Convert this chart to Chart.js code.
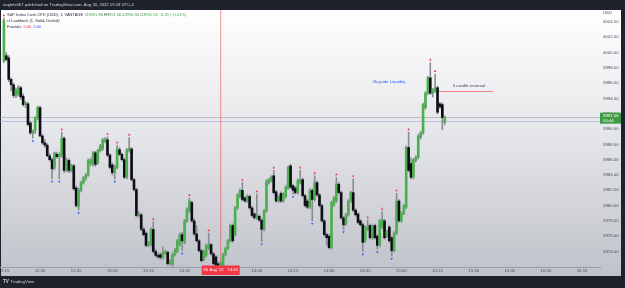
<!DOCTYPE html>
<html><head><meta charset="utf-8">
<script src="https://cdn.jsdelivr.net/npm/chart.js@4.4.1/dist/chart.umd.min.js"></script>
<style>html,body{margin:0;padding:0;background:#1e222d;overflow:hidden}#wrap{position:relative;width:625px;height:288px}canvas{display:block}</style>
</head><body><div id="wrap"><canvas id="c" width="625" height="288"></canvas></div>
<script>
// ---- data (1-minute candles starting 12:15) ----
const startTime = '12:15';
const opens = [
3998.9,3999.6,3999.3,3996.5,3995.8,3994.4,3994.6,3995.4,3994.3,3993.2,
3993.3,3990.8,3989.5,3989.8,3991.5,3992.8,3989.1,3988.2,3987.9,3986.5,
3986.0,3985.0,3986.7,3986.4,3986.6,3988.8,3984.6,3985.9,3984.6,3985.2,
3982.3,3979.9,3982.0,3983.0,3983.6,3984.0,3985.5,3985.4,3986.9,3985.6,
3987.2,3987.4,3988.4,3988.6,3986.6,3985.3,3984.3,3985.0,3987.3,3986.7,
3986.0,3983.7,3987.2,3987.4,3983.4,3982.1,3978.7,3978.8,3976.9,3976.4,
3974.8,3974.9,3976.9,3974.0,3973.5,3973.6,3973.2,3973.8,3973.9,3972.4,
3972.3,3973.6,3974.0,3974.9,3976.2,3975.2,3978.0,3979.3,3980.4,3978.0,
3976.3,3975.4,3974.1,3973.0,3973.5,3974.4,3974.9,3973.7,3973.3,3972.4,
3972.2,3972.2,3973.6,3974.4,3975.4,3977.4,3976.2,3979.7,3981.2,3982.0,
3981.0,3980.6,3981.2,3979.7,3978.9,3978.4,3978.6,3978.1,3976.9,3979.3,
3983.0,3983.3,3983.9,3981.8,3980.6,3981.6,3980.6,3981.2,3982.3,3985.2,
3982.6,3982.3,3981.7,3983.0,3983.4,3981.3,3980.6,3979.8,3982.0,3980.8,
3983.0,3981.4,3980.0,3978.0,3976.2,3976.0,3974.5,3980.1,3980.6,3982.8,
3981.7,3978.4,3977.6,3978.8,3980.6,3981.7,3979.4,3978.9,3978.0,3977.5,
3975.4,3976.9,3977.4,3975.8,3977.4,3976.0,3974.8,3977.2,3978.0,3976.0,
3977.2,3975.8,3974.1,3976.4,3980.6,3978.0,3979.0,3979.8,3987.6,3985.5,
3983.7,3985.9,3986.3,3988.9,3989.5,3992.8,3994.7,3996.7,3994.7,3995.0,
3995.4,3993.3,3993.2,3990.86];
const highs = [
4004.5,4000.0,3999.6,3996.7,3996.0,3995.4,3995.7,3995.6,3994.6,3993.6,
3993.5,3991.0,3989.9,3991.6,3993.0,3993.0,3989.3,3988.6,3988.1,3986.8,
3986.2,3987.0,3987.0,3986.9,3989.6,3989.0,3986.2,3986.1,3985.4,3985.4,
3982.6,3982.3,3983.2,3983.8,3984.2,3986.1,3986.2,3987.1,3987.1,3987.4,
3988.0,3988.8,3988.9,3989.0,3986.8,3985.6,3985.3,3987.9,3987.6,3986.9,
3986.2,3987.5,3988.9,3987.6,3983.6,3982.3,3979.2,3979.0,3977.2,3976.6,
3975.3,3977.1,3977.9,3974.3,3973.8,3973.8,3974.6,3974.2,3974.1,3972.9,
3973.8,3974.4,3975.6,3976.4,3976.5,3978.2,3979.7,3981.0,3980.6,3978.3,
3977.4,3975.6,3974.3,3974.2,3975.0,3976.4,3975.1,3973.9,3973.5,3972.7,
3972.7,3973.8,3974.6,3975.6,3977.6,3977.6,3979.9,3981.6,3982.2,3983.0,
3981.2,3981.4,3981.4,3979.9,3979.1,3981.5,3978.8,3978.3,3979.5,3983.4,
3983.6,3983.9,3984.6,3982.0,3981.3,3981.8,3981.7,3982.6,3985.2,3985.4,
3982.8,3982.5,3983.5,3984.6,3983.6,3981.5,3980.8,3982.2,3982.2,3983.9,
3983.2,3981.6,3980.2,3978.2,3976.4,3976.2,3980.6,3981.2,3983.7,3983.0,
3981.9,3978.6,3979.0,3980.8,3981.9,3983.5,3979.6,3979.1,3978.2,3977.7,
3977.3,3978.1,3977.6,3977.5,3977.6,3976.2,3978.2,3979.2,3978.2,3976.8,
3977.4,3976.0,3976.6,3981.6,3980.8,3979.2,3980.2,3987.8,3989.6,3986.2,
3986.2,3986.5,3989.3,3989.7,3993.4,3994.9,3996.9,3998.7,3995.3,3997.2,
3995.6,3993.5,3993.4,3991.7];
const lows = [
3998.7,3998.9,3996.2,3995.0,3994.1,3994.1,3994.3,3993.9,3993.0,3992.8,
3990.4,3989.3,3988.8,3989.4,3991.2,3989.0,3988.0,3987.6,3986.4,3985.8,
3983.5,3984.7,3986.2,3983.5,3986.3,3984.3,3984.4,3984.3,3984.4,3982.0,
3979.8,3979.4,3981.8,3982.8,3983.3,3983.8,3985.2,3985.2,3985.1,3985.4,
3987.0,3987.2,3988.2,3986.4,3984.8,3984.0,3983.5,3984.8,3986.5,3985.8,
3983.5,3983.5,3987.0,3983.2,3981.9,3978.5,3978.5,3976.7,3976.0,3974.6,
3974.6,3974.7,3973.8,3973.3,3973.1,3973.0,3973.0,3973.6,3972.2,3972.2,
3972.1,3973.4,3973.8,3974.7,3974.1,3975.0,3977.8,3979.1,3977.8,3976.1,
3975.2,3973.9,3972.6,3972.8,3973.3,3974.2,3973.5,3972.2,3972.0,3972.0,
3972.0,3972.0,3973.4,3974.2,3975.2,3975.2,3976.0,3979.5,3981.0,3980.6,
3980.4,3980.4,3979.5,3978.5,3978.2,3978.2,3977.9,3975.3,3976.7,3979.1,
3982.8,3983.1,3981.5,3980.4,3980.4,3980.4,3980.4,3981.0,3982.1,3982.2,
3981.5,3981.5,3981.5,3982.8,3981.1,3979.8,3979.6,3979.6,3978.0,3980.6,
3981.2,3979.8,3977.8,3976.0,3974.8,3974.3,3974.3,3979.9,3980.4,3981.5,
3978.2,3976.9,3977.4,3978.6,3980.4,3979.2,3978.6,3977.6,3977.3,3974.0,
3975.2,3976.7,3975.6,3975.6,3975.6,3974.3,3974.6,3977.0,3975.6,3975.8,
3975.2,3973.4,3973.9,3976.2,3977.8,3977.8,3978.8,3979.6,3984.4,3983.5,
3983.5,3985.7,3986.1,3988.7,3989.3,3992.6,3994.5,3994.5,3994.2,3994.8,
3992.0,3992.7,3989.9,3990.6];
const closes = [
4004.2,3999.1,3996.5,3995.8,3994.4,3995.1,3995.4,3994.2,3993.2,3993.4,
3990.6,3989.5,3989.7,3991.5,3992.8,3989.1,3988.2,3987.9,3986.5,3986.0,
3984.8,3986.9,3986.4,3986.7,3988.8,3984.6,3985.9,3984.6,3985.2,3982.2,
3980.0,3982.0,3983.0,3983.6,3984.0,3985.9,3986.0,3986.9,3985.4,3987.2,
3987.8,3988.6,3988.7,3986.6,3985.0,3984.3,3985.0,3987.4,3986.7,3986.0,
3983.7,3987.3,3987.5,3983.4,3982.1,3978.7,3978.9,3976.9,3976.2,3974.8,
3975.1,3976.9,3974.0,3973.5,3973.3,3973.2,3973.9,3974.0,3972.4,3972.7,
3973.6,3974.2,3975.4,3976.2,3975.4,3978.0,3979.5,3980.6,3978.0,3976.3,
3975.4,3974.1,3972.8,3974.0,3974.8,3974.9,3973.7,3972.4,3972.2,3972.2,
3972.5,3973.6,3974.4,3975.4,3977.4,3975.4,3979.7,3981.4,3982.0,3980.8,
3980.6,3981.2,3979.7,3978.7,3978.4,3978.7,3978.1,3976.9,3979.3,3983.2,
3983.4,3983.7,3981.7,3980.6,3981.1,3980.6,3981.5,3982.4,3985.0,3982.4,
3982.0,3981.7,3983.3,3983.4,3981.3,3980.0,3979.8,3982.0,3980.8,3983.0,
3981.4,3980.0,3978.0,3976.2,3975.8,3974.5,3980.4,3981.0,3982.8,3981.7,
3978.4,3977.5,3978.8,3980.6,3981.7,3979.4,3978.8,3977.8,3977.5,3975.2,
3977.1,3977.3,3975.8,3977.3,3975.8,3974.8,3978.0,3978.2,3975.8,3976.6,
3975.4,3974.1,3976.4,3980.6,3978.0,3979.0,3980.0,3987.6,3984.6,3983.7,
3986.0,3986.3,3989.1,3989.5,3993.2,3994.7,3996.7,3994.7,3995.1,3995.4,
3992.2,3992.9,3991.5,3991.56];
const upFractals = [0,24,43,47,52,62,77,85,99,105,112,123,129,138,145,151,157,163,168,177,179];
const downFractals = [12,20,23,31,46,74,107,120,128,141,149,155,161];
const timeTickLabels = ['12:15','12:30','12:45','13:00','13:15','13:30','14:00','14:15','14:30','14:45','15:00','15:15','15:30','15:45','16:00','16:15'];
const priceTicks = [3974,3976,3978,3980,3982,3984,3986,3988,3990,3992,3994,3996,3998,4000,4002,4004];
const priceLines = [3991.56, 3991.0];
const crosshairTime = '13:45';
const crosshairLabel = "30 Aug '22";
const reversalLine = {from:'15:14', to:'15:38', price:3995.0, text:'3 candle reversal', textTime:'15:28', textPrice:3995.6};
const buysideNote = {text:'Buyside Liquidity', time:'14:55', price:3996.2};
const publishedText = 'eaglehitt67 published on TradingView.com, Aug 30, 2022 15:18 UTC-4';
const legendTitle = 'S&P Index Cash CFD (USD), 1, VANTAGE';
const legendValues = [['O','3991.86'],['H','3991.56'],['L','3990.56'],['C','3991.56']];
const legendChange = '\u22120.25 (\u22120.01%)';
const legendLine2 = 'ct Lookback (1, Solid, Dotted)';
const legendLine3 = ['Fractals', '0.00', '0.00'];
const countdown = '00:44';

// ---- helpers ----
const toMin = s => { const [h,m] = s.split(':').map(Number); return h*60+m; };
const t0 = toMin(startTime);
const pxPerMin = 2.409;
const xMin = t0 - 3.9/pxPerMin, xMax = xMin + 600/pxPerMin;
const yMax = 4004 + 12/7.65, yMin = yMax - 257/7.65;
const FONT = '"Liberation Sans", Arial, sans-serif';
const UP = '#4caf50', DOWN = '#0d0f15', WICK = '#868a93';

const wickData = highs.map((h,i)=>({x:t0+i, y:[lows[i], h]}));
const bodyData = opens.map((o,i)=>({x:t0+i, y:[Math.min(o,closes[i]), Math.max(o,closes[i])]}));

const overlay = {
  id:'overlay',
  beforeDraw(chart){
    const {ctx,width,height} = chart;
    ctx.save();
    ctx.fillStyle = '#1e222d'; ctx.fillRect(0,0,width,height);
    const g = ctx.createLinearGradient(0,10,0,276);
    g.addColorStop(0,'#ffffff'); g.addColorStop(0.45,'#e6e7ea'); g.addColorStop(1,'#bfc2c9');
    ctx.fillStyle = g; ctx.fillRect(1,10,620,266);
    ctx.textBaseline = 'middle';
    ctx.fillStyle = '#d1d4dc'; ctx.font = '4.2px '+FONT;
    ctx.fillText(publishedText, 3, 5);
    ctx.font = 'bold 4.6px '+FONT; ctx.fillText('TV', 3, 282);
    ctx.font = '4.3px '+FONT; ctx.fillText('TradingView', 10.5, 282);
    ctx.restore();
  },
  beforeDatasetsDraw(chart){
    const {ctx, chartArea:a, scales:{x,y}} = chart;
    ctx.save();
    ctx.lineWidth = 1;
    const cols = ['rgba(150,154,164,0.55)','rgba(160,166,215,0.6)'];
    priceLines.forEach((p,k)=>{ const yy = Math.round(y.getPixelForValue(p))+0.5; ctx.strokeStyle = cols[k]; ctx.beginPath(); ctx.moveTo(a.left,yy); ctx.lineTo(a.right,yy); ctx.stroke(); });
    const cx = x.getPixelForValue(toMin(crosshairTime));
    ctx.strokeStyle = 'rgba(242,54,69,0.55)';
    ctx.beginPath(); ctx.moveTo(cx,a.top); ctx.lineTo(cx,a.bottom); ctx.stroke();
    const ry = Math.round(y.getPixelForValue(reversalLine.price))+0.5;
    ctx.strokeStyle = 'rgba(242,54,69,0.6)';
    ctx.beginPath(); ctx.moveTo(x.getPixelForValue(toMin(reversalLine.from)),ry); ctx.lineTo(x.getPixelForValue(toMin(reversalLine.to)),ry); ctx.stroke();
    ctx.restore();
  },
  afterDatasetsDraw(chart){
    const {ctx, scales:{x,y}} = chart;
    ctx.save();
    ctx.fillStyle = '#f23645';
    upFractals.forEach(i=>{ const px = x.getPixelForValue(t0+i), py = y.getPixelForValue(highs[i]) - 3;
      ctx.beginPath(); ctx.moveTo(px,py-1.2); ctx.lineTo(px+1.3,py+1); ctx.lineTo(px-1.3,py+1); ctx.closePath(); ctx.fill(); });
    ctx.fillStyle = '#2962ff';
    downFractals.forEach(i=>{ const px = x.getPixelForValue(t0+i), py = y.getPixelForValue(lows[i]) + 3;
      ctx.beginPath(); ctx.moveTo(px,py+1.2); ctx.lineTo(px+1.3,py-1); ctx.lineTo(px-1.3,py-1); ctx.closePath(); ctx.fill(); });
    // notes
    ctx.textBaseline = 'middle'; ctx.textAlign = 'center';
    ctx.font = '4.3px '+FONT;
    ctx.fillStyle = '#2962ff';
    ctx.fillText(buysideNote.text, x.getPixelForValue(toMin(buysideNote.time)), y.getPixelForValue(buysideNote.price));
    ctx.fillStyle = '#3a3e49';
    ctx.fillText(reversalLine.text, x.getPixelForValue(toMin(reversalLine.textTime)), y.getPixelForValue(reversalLine.textPrice));
    // legend
    ctx.textAlign = 'left';
    ctx.font = '4.0px '+FONT;
    let lx = 7; const dark = '#2a2e39', green = '#3e9e49';
    const seg = (t,c)=>{ ctx.fillStyle=c; ctx.fillText(t,lx,15); lx += ctx.measureText(t).width; };
    seg(legendTitle+' ', dark);
    legendValues.forEach(([k,v])=>{ seg(' '+k, dark); seg(v, green); });
    seg(' '+legendChange, green);
    ctx.fillStyle = dark; ctx.fillText(legendLine2, 7, 21);
    lx = 7;
    const seg3 = (t,c)=>{ ctx.fillStyle=c; ctx.fillText(t,lx,27); lx += ctx.measureText(t).width; };
    seg3(legendLine3[0]+'  ', dark); seg3(legendLine3[1]+'  ', '#f23645'); seg3(legendLine3[2], '#2962ff');
    ctx.restore();
  },
  afterDraw(chart){
    const {ctx, chartArea:a, scales:{x,y}} = chart;
    ctx.save();
    ctx.textBaseline = 'middle'; ctx.font = '4.3px '+FONT;
    ctx.fillStyle = '#4a4e59'; ctx.textAlign='left';
    ctx.fillText('USD', a.right+3, 13);
    // last price tag
    const last = closes.length-1;
    const py = y.getPixelForValue(closes[last]);
    ctx.fillStyle = '#3f9c45'; ctx.fillRect(a.right, py-4.5, 21, 11);
    ctx.fillStyle = '#ffffff';
    ctx.fillText(closes[last].toFixed(2), a.right+3, py-1.5);
    ctx.fillText(countdown, a.right+3, py+3.6);
    // crosshair date label
    const cx = x.getPixelForValue(toMin(crosshairTime));
    ctx.fillStyle = '#f23645'; ctx.fillRect(cx-19, a.bottom-1.5, 38, 9.5);
    ctx.fillStyle = '#ffffff'; ctx.textAlign='center';
    ctx.fillText(crosshairLabel+'   '+crosshairTime, cx, a.bottom+3.3);
    ctx.restore();
  }
};

new Chart(document.getElementById('c'), {
  type:'bar',
  data:{ datasets:[
    { label:'wick', data:wickData, backgroundColor:WICK, barThickness:0.9, grouped:false, borderWidth:0, order:2 },
    { label:'body', data:bodyData, barThickness:2, grouped:false, borderWidth:0, minBarLength:1, order:1,
      backgroundColor: c => closes[c.dataIndex] >= opens[c.dataIndex] ? UP : DOWN }
  ]},
  options:{
    responsive:false, animation:false, events:[],
    layout:{ padding:{ left:0, right:4, top:10, bottom:12 } },
    plugins:{ legend:{display:false}, tooltip:{enabled:false} },
    scales:{
      x:{ type:'linear', min:xMin, max:xMax, offset:false,
          grid:{display:false, drawTicks:false}, border:{display:true, color:'#9a9ea8', dash:[1,2], width:1},
          ticks:{ autoSkip:false, maxRotation:0, padding:1.5, color:'#4a4e59', font:{size:4.3, family:FONT},
                  callback:(v,i)=> timeTickLabels[i] },
          afterBuildTicks: s => { s.ticks = timeTickLabels.map(l=>({value:toMin(l)})); },
          afterFit: s => { s.height = 9; s.paddingLeft = 0; s.paddingRight = 0; } },
      y:{ position:'right', min:yMin, max:yMax, beginAtZero:false,
          grid:{display:false, drawTicks:false}, border:{display:false},
          ticks:{ padding:3, color:'#4a4e59', font:{size:4.3, family:FONT}, callback:v=>Number(v).toFixed(2) },
          afterBuildTicks: s => { s.ticks = priceTicks.map(v=>({value:v})); },
          afterFit: s => { s.width = 21; s.paddingTop = 0; s.paddingBottom = 0; } }
    }
  },
  plugins:[overlay]
});
</script></body></html>
